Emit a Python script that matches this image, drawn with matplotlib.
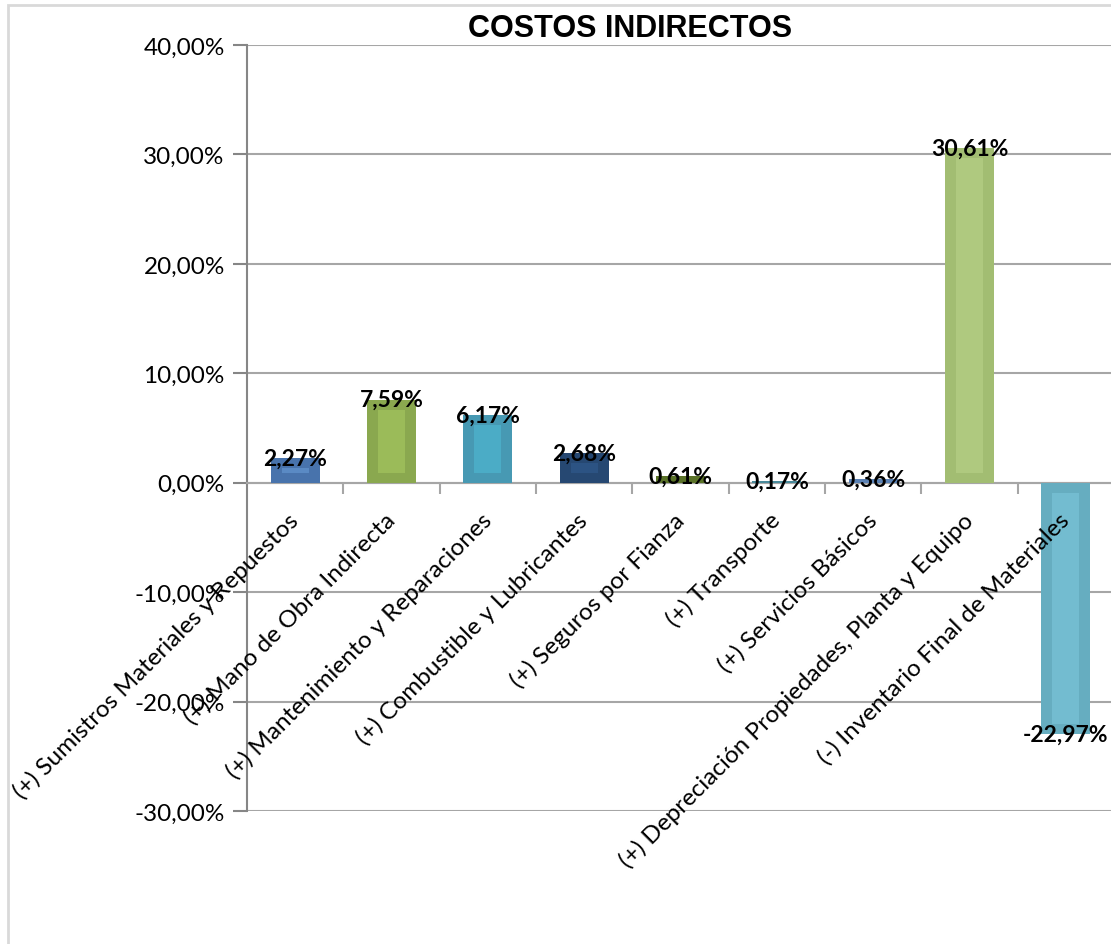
import numpy as np
import matplotlib
matplotlib.use('Agg')
import matplotlib.pyplot as plt
from matplotlib.ticker import FuncFormatter, FixedLocator

plt.rcParams['font.family'] = ['Lato', 'DejaVu Sans']

categorias = ['(+) Sumistros Materiales y Repuestos',
              '(+) Mano de Obra Indirecta',
              '(+) Mantenimiento y Reparaciones',
              '(+) Combustible y Lubricantes',
              '(+) Seguros por Fianza',
              '(+) Transporte',
              '(+) Servicios Básicos',
              '(+) Depreciación Propiedades, Planta y Equipo',
              '(-) Inventario Final de Materiales']
valores = [2.27, 7.59, 6.17, 2.68, 0.61, 0.17, 0.36, 30.61, -22.97]

# borde oscuro / centro claro de cada barra
col_borde = ['#4873ac', '#8aa84f', '#4799b3', '#264872', '#5a7228',
             '#4a8a9a', '#5b82b5', '#a2bd72', '#66adc0']
col_centro = ['#5a8ac4', '#9bbb59', '#4bacc6', '#2c5383', '#5a7228',
              '#4a8a9a', '#5b82b5', '#afc97f', '#73bcd0']

fig = plt.figure(figsize=(11.11, 9.45), dpi=100)
fig.patches.append(plt.Rectangle((8 / 1111, -0.01), 1.0, 1 - 6 / 945 + 0.01,
                                 transform=fig.transFigure, fill=False,
                                 edgecolor='#d9d9d9', lw=2, zorder=0))
ax = fig.add_axes([247 / 1111, 1 - 812 / 945, 867 / 1111, (812 - 46) / 945])

x = np.arange(len(valores))
ancho = 0.51
ax.bar(x, valores, width=ancho, color=col_borde, zorder=3)

# franja interior mas clara
margen = 0.9
alto_centro = [np.sign(v) * (abs(v) - 2 * margen) if abs(v) > 2 * margen else 0 for v in valores]
base_centro = [np.sign(v) * margen for v in valores]
ax.bar(x, alto_centro, width=ancho * 0.55, bottom=base_centro, color=col_centro, zorder=3.5)

for xi, v in zip(x, valores):
    ax.text(xi, v, f'{v:.2f}%'.replace('.', ','), ha='center', va='center',
            fontsize=16.5, fontweight='bold', color='black', zorder=5)

ax.set_xlim(-0.5, len(valores) - 0.5)
ax.set_ylim(-30, 40)
ax.set_yticks(np.arange(-30, 41, 10))
ax.yaxis.set_major_formatter(FuncFormatter(lambda v, p: f'{v:.2f}%'.replace('.', ',')))
ax.grid(axis='y', color='#a6a6a6', lw=1.5, zorder=0)
ax.set_axisbelow(True)
# etiquetas de categoria por encima de las barras
ax.xaxis.set_zorder(4)

for s in ['top', 'right']:
    ax.spines[s].set_visible(False)
ax.spines['left'].set_color('#868686')
ax.spines['left'].set_linewidth(1.5)
ax.spines['bottom'].set_position(('data', 0))
ax.spines['bottom'].set_color('#a6a6a6')
ax.spines['bottom'].set_linewidth(1.5)

ax.tick_params(axis='y', length=10, width=1.5, color='#868686', labelsize=17.5, pad=6)
ax.set_xticks(x)
ax.set_xticklabels(categorias, rotation=45, ha='right', va='center',
                   rotation_mode='anchor', fontsize=17.5)
ax.tick_params(axis='x', which='major', length=0, pad=24)
ax.xaxis.set_minor_locator(FixedLocator(np.arange(0.5, len(valores) - 0.5, 1)))
ax.tick_params(axis='x', which='minor', length=8, width=1.5, color='#a6a6a6', direction='out')

fig.text(630 / 1111, 1 - 29 / 945, 'COSTOS INDIRECTOS', ha='center', va='center',
         fontsize=22, fontweight='bold', family=['Liberation Sans', 'DejaVu Sans'])

fig.savefig('out.png', dpi=100)
